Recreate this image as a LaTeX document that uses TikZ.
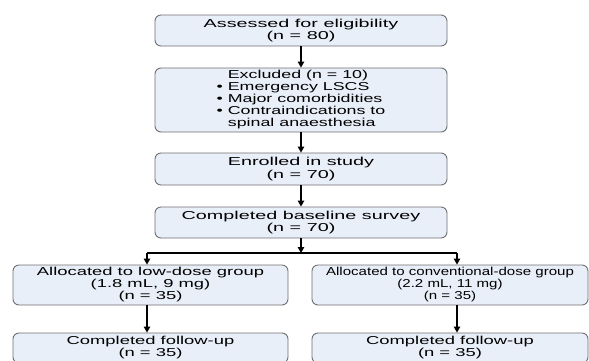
\documentclass[tikz,border=0pt]{standalone}
\usepackage{fontspec}
\setmainfont{Liberation Sans}
\newfontfamily\fC[FakeStretch=1.72]{Liberation Sans}
\newfontfamily\fX[FakeStretch=1.55]{Liberation Sans}
\newfontfamily\fL[FakeStretch=1.6]{Liberation Sans}
\newfontfamily\fR[FakeStretch=1.31]{Liberation Sans}
\newfontfamily\fB[FakeStretch=1.6]{Liberation Sans}
\usetikzlibrary{arrows.meta}
\definecolor{boxfill}{HTML}{E9EFF9}
\definecolor{boxgray}{HTML}{707070}
\begin{document}
\begin{tikzpicture}[x=1pt,y=-1pt,
  box/.style={draw=boxgray, fill=boxfill, rounded corners=6pt, line width=0.9pt, inner sep=0pt, align=center, minimum width=292pt},
  sbox/.style={box, minimum width=275pt},
  arr/.style={-{Triangle[length=6pt,width=6.5pt]}, line width=1.1pt, black},
  lin/.style={line width=1.1pt, black}]
\useasboundingbox (0,0) rectangle (589,360);
\clip (0,0) rectangle (589,360);
\fill[white] (0,0) rectangle (589,360);
\node[box, minimum height=31pt, font=\fC\fontsize{11.5}{12.8}\selectfont] (b1) at (301,30.5) {Assessed for eligibility\\(n = 80)};
\node[box, minimum height=64pt, font=\fX\fontsize{11.5}{11.7}\selectfont] (b2) at (301,100) {%
\begin{tabular}{@{}r@{\hspace{5pt}}l@{}}
 & Excluded (n = 10)\\
\textbullet & Emergency LSCS\\
\textbullet & Major comorbidities\\
\textbullet & Contraindications to\\
 & spinal anaesthesia
\end{tabular}};
\node[box, minimum height=32pt, font=\fC\fontsize{11.5}{12.8}\selectfont] (b3) at (301,169) {Enrolled in study\\(n = 70)};
\node[box, minimum height=31pt, font=\fC\fontsize{11.5}{12.8}\selectfont] (b4) at (301,222.5) {Completed baseline survey\\(n = 70)};
\node[sbox, minimum height=40pt, font=\fL\fontsize{11.5}{12}\selectfont] (l1) at (150.5,285) {Allocated to low-dose group\\(1.8 mL, 9 mg)\\(n = 35)};
\node[sbox, minimum width=276pt, minimum height=40pt, font=\fR\fontsize{11.5}{12}\selectfont] (r1) at (450,285) {Allocated to conventional-dose group\\(2.2 mL, 11 mg)\\(n = 35)};
\node[sbox, minimum height=30pt, font=\fB\fontsize{11.5}{12}\selectfont] (l2) at (150.5,348) {Completed follow-up\\(n = 35)};
\node[sbox, minimum width=276pt, minimum height=30pt, font=\fB\fontsize{11.5}{12}\selectfont] (r2) at (450,348) {Completed follow-up\\(n = 35)};
\coordinate (j) at (301,253);
\coordinate (jl) at (147,253);
\coordinate (jr) at (457,253);
\draw[arr] (b1) -- (b2);
\draw[arr] (b2) -- (b3);
\draw[arr] (b3) -- (b4);
\draw[arr] (b4.south) -- (j);
\draw[lin] (jl) -- (jr);
\draw[arr] (jl) -- (jl |- l1.north);
\draw[arr] (jr) -- (jr |- r1.north);
\draw[arr] (l1.south -| jl) -- (jl |- l2.north);
\draw[arr] (r1.south -| jr) -- (jr |- r2.north);
\end{tikzpicture}
\end{document}
